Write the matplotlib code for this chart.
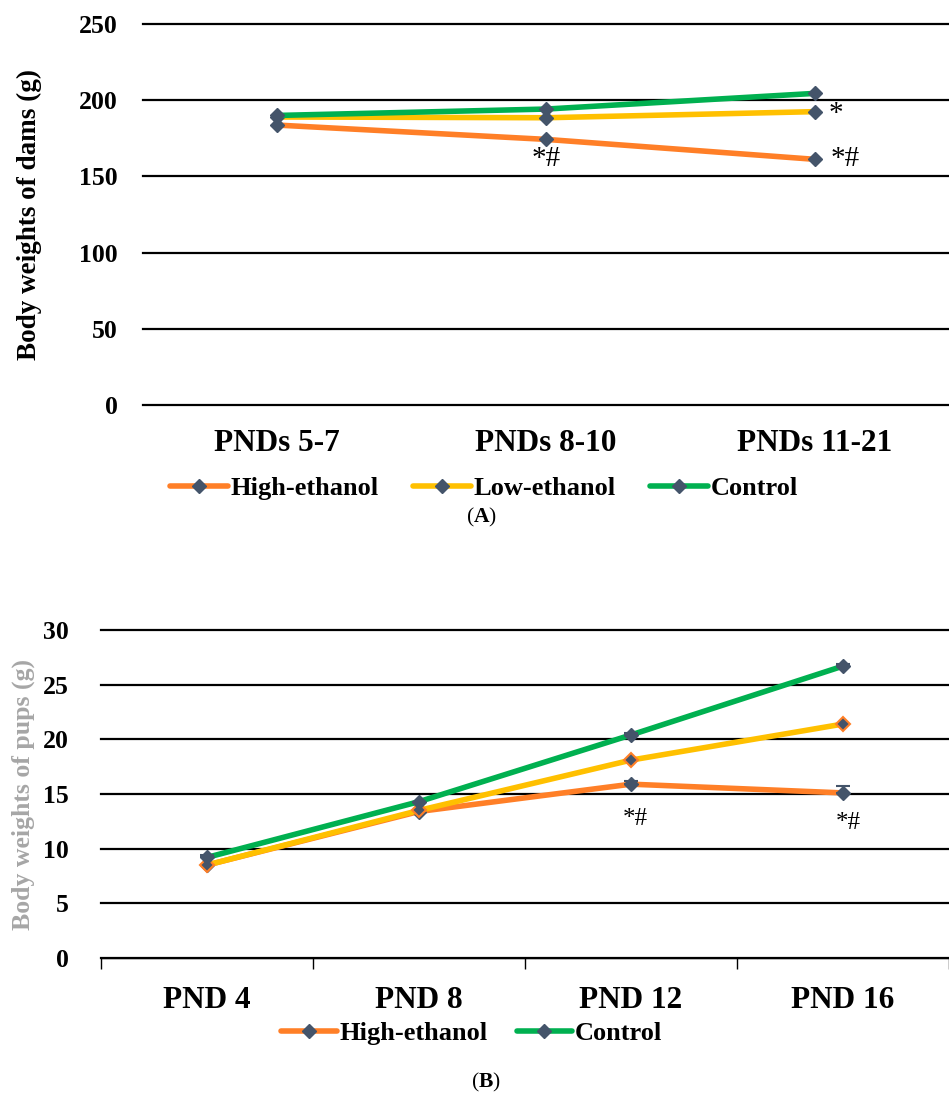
import numpy as np
from matplotlib import pyplot as plt

# Dam body weights (g)
dam_periods = ["PNDs 5-7", "PNDs 8-10", "PNDs 11-21"]
dam_high = [183.7, 174.3, 161.2]
dam_low = [189.0, 188.5, 192.5]
dam_control = [190.0, 194.2, 204.5]

# Pup body weights (g)
pup_days = ["PND 4", "PND 8", "PND 12", "PND 16"]
pup_high = [8.5, 13.4, 15.9, 15.1]
pup_high_err = [0.0, 0.0, 0.3, 0.6]
pup_low = [8.5, 13.5, 18.1, 21.4]
pup_control = [9.2, 14.3, 20.4, 26.7]
pup_control_err = [0.2, 0.0, 0.2, 0.2]

ORANGE = "#FF7F27"
YELLOW = "#FFC000"
GREEN = "#00B050"
MARK = "#44546A"

plt.rcParams["font.family"] = ["Liberation Serif", "DejaVu Serif"]
plt.rcParams["mathtext.fontset"] = "custom"
plt.rcParams["mathtext.rm"] = "Liberation Serif"
plt.rcParams["mathtext.bf"] = "Liberation Serif:bold"

fig = plt.figure(figsize=(9.49, 10.97), dpi=100)

line_kw = dict(lw=4.0, marker="D", ms=7, mfc=MARK, mec=MARK, solid_capstyle="round")


def style_axes(ax, labels, ylabel, ylabel_color, ypad):
    ax.set_xticks(np.arange(len(labels)))
    ax.set_xticklabels(labels, fontsize=22.5, fontweight="bold")
    ax.set_xlim(-0.5, len(labels) - 0.5)
    ax.tick_params(axis="y", length=0, pad=ypad, labelsize=18.5)
    for lab in ax.get_yticklabels():
        lab.set_fontweight("bold")
    ax.yaxis.grid(True, color="black", lw=1.6)
    for gl in ax.get_ygridlines():
        gl.set_clip_on(False)
    ax.set_axisbelow(True)
    for s in ["top", "right", "left"]:
        ax.spines[s].set_visible(False)
    ax.set_ylabel(ylabel, fontsize=19.5, fontweight="bold", color=ylabel_color)


# Panel A: dams
ax1 = fig.add_axes([0.1502, 0.6308, 0.8504, 0.3473])
x1 = np.arange(len(dam_periods))
ax1.plot(x1, dam_high, color=ORANGE, label="High-ethanol", zorder=3, **line_kw)
ax1.plot(x1, dam_low, color=YELLOW, label="Low-ethanol", zorder=3, **line_kw)
ax1.plot(x1, dam_control, color=GREEN, label="Control", zorder=4, **line_kw)
ax1.set_ylim(0, 250)
ax1.set_yticks(np.arange(0, 251, 50))
style_axes(ax1, dam_periods, "Body weights of dams (g)", "black", 18)
ax1.spines["bottom"].set_visible(False)
ax1.tick_params(axis="x", length=0, pad=17.5)
ax1.yaxis.set_label_coords(-0.124, 0.5)

ax1.annotate("*#", (1, dam_high[1]), xytext=(0, -14), textcoords="offset points",
             ha="center", va="center", fontsize=21)
ax1.annotate("*", (2, dam_low[2]), xytext=(15, -2), textcoords="offset points",
             ha="center", va="center", fontsize=21)
ax1.annotate("*#", (2, dam_high[2]), xytext=(22, 0), textcoords="offset points",
             ha="center", va="center", fontsize=21)

fig.legend(*ax1.get_legend_handles_labels(), loc="center", bbox_to_anchor=(0.51, 0.555),
           ncol=3, frameon=False, prop=dict(size=19, weight="bold"),
           handlelength=2.2, handletextpad=0.1, columnspacing=1.3)
fig.text(0.507, 0.528, r"($\mathbf{A}$)", ha="center", va="center", fontsize=15.5)

# Panel B: pups
ax2 = fig.add_axes([0.1064, 0.1267, 0.8936, 0.299])
x2 = np.arange(len(pup_days))
h_high = ax2.plot(x2, pup_high, color=ORANGE, label="High-ethanol", zorder=3, **line_kw)[0]
ax2.errorbar(x2, pup_high, yerr=[np.zeros(4), pup_high_err], fmt="none",
             ecolor=MARK, capsize=5, elinewidth=1.2, capthick=1.5, zorder=3)
ax2.plot(x2, pup_low, color=YELLOW, zorder=4,
         **{**line_kw, "mec": ORANGE, "mew": 1.5})
h_ctrl = ax2.plot(x2, pup_control, color=GREEN, label="Control", zorder=5, **line_kw)[0]
ax2.errorbar(x2, pup_control, yerr=[np.zeros(4), pup_control_err], fmt="none",
             ecolor=MARK, capsize=5, elinewidth=1.2, capthick=1.5, zorder=5)
ax2.set_ylim(0, 30)
ax2.set_yticks(np.arange(0, 31, 5))
style_axes(ax2, pup_days, "Body weights of pups (g)", "#A6A6A6", 23)
ax2.spines["bottom"].set_linewidth(1.0)
ax2.set_xticks(np.arange(-0.5, len(pup_days)), minor=True)
ax2.tick_params(axis="x", which="major", length=0, pad=20)
ax2.tick_params(axis="x", which="minor", length=8, width=1.0, direction="out")
ax2.yaxis.set_label_coords(-0.078, 0.5)
ax2.yaxis.label.set_fontsize(18.5)

ax2.annotate("*#", (2, pup_high[2]), xytext=(3, -25), textcoords="offset points",
             ha="center", va="center", fontsize=18)
ax2.annotate("*#", (3, pup_high[3]), xytext=(4, -22), textcoords="offset points",
             ha="center", va="center", fontsize=18)

fig.legend([h_high, h_ctrl], ["High-ethanol", "Control"], loc="center",
           bbox_to_anchor=(0.497, 0.0583), ncol=2, frameon=False,
           prop=dict(size=19, weight="bold"), handlelength=2.1, handletextpad=0.1,
           columnspacing=1.1)
fig.text(0.512, 0.013, r"($\mathbf{B}$)", ha="center", va="center", fontsize=15.5)

fig.savefig("out.png", dpi=100)
